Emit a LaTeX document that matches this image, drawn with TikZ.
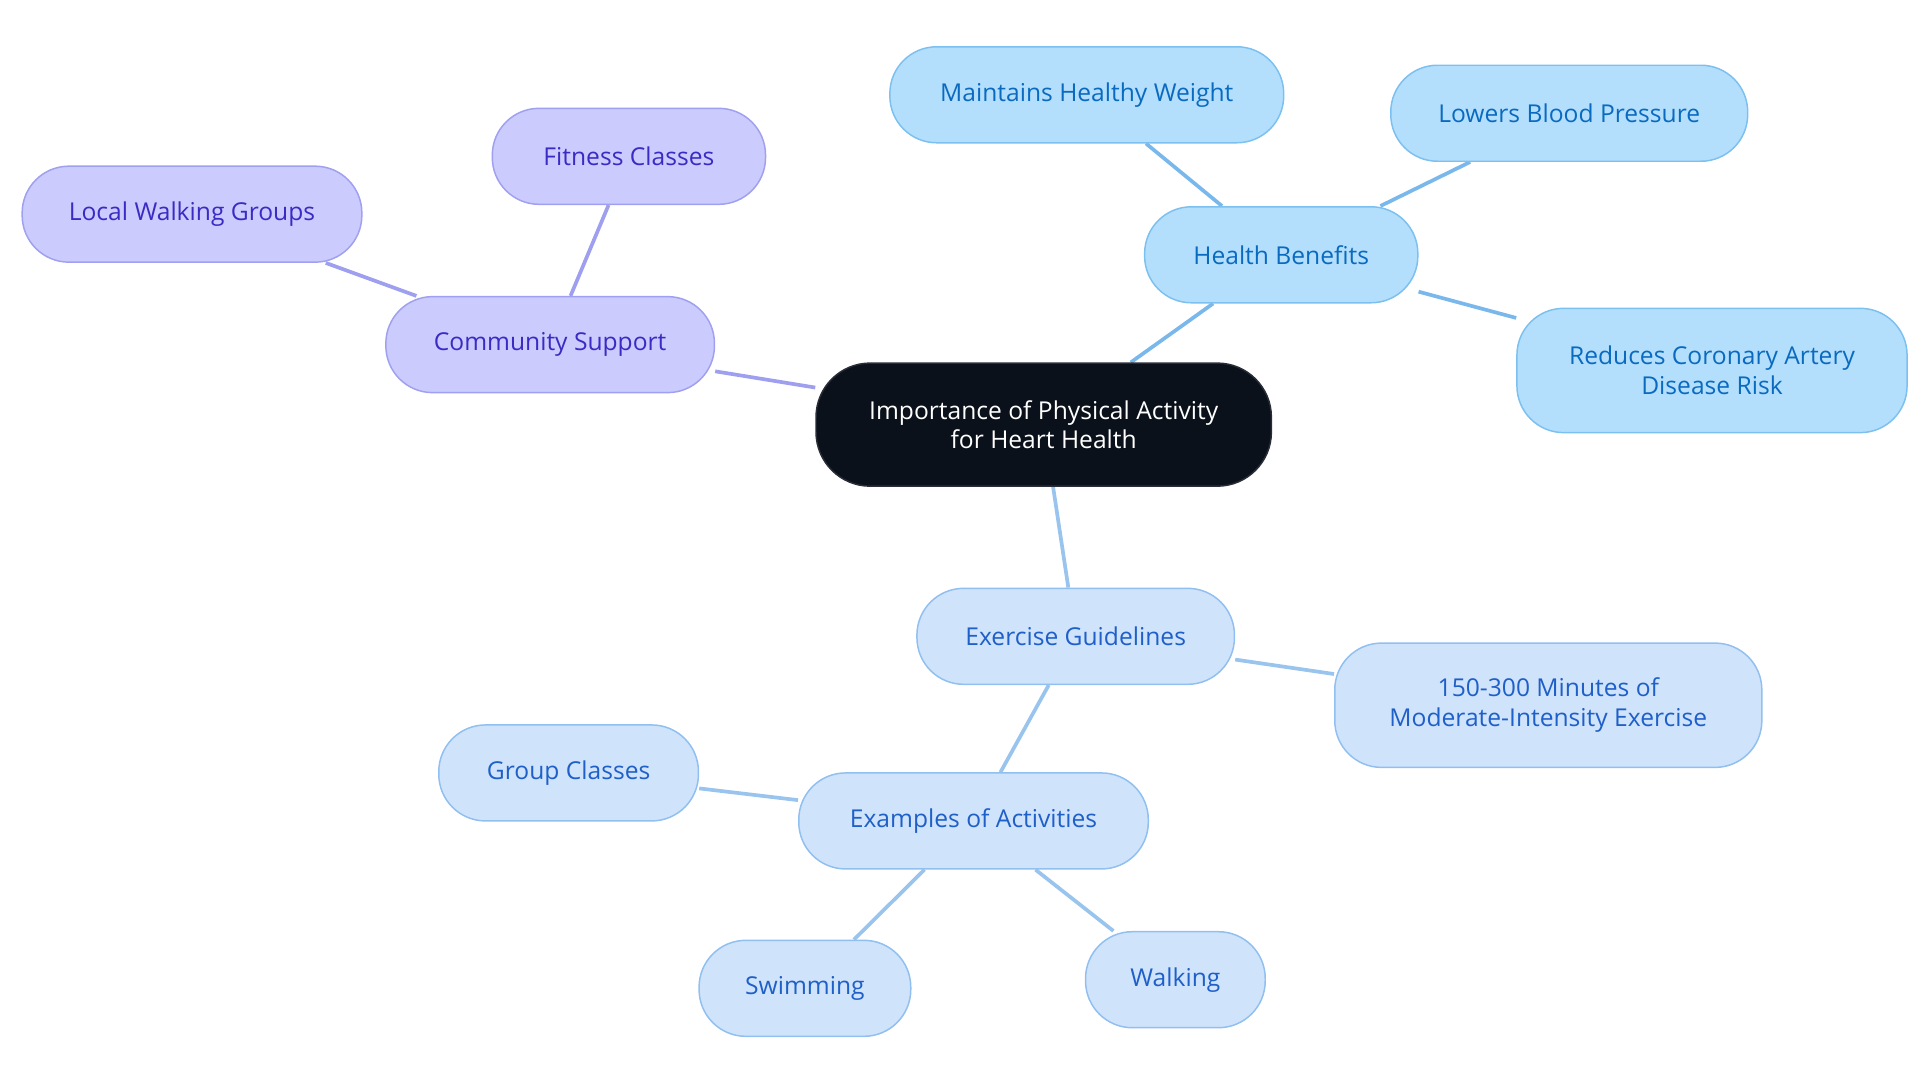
\documentclass[tikz,border=0pt]{standalone}
\usepackage{fontspec}
\setmainfont{Open Sans}
\pgfdeclarelayer{background}
\pgfsetlayers{background,main}
\begin{document}
\begin{tikzpicture}[x=0.5pt,y=-0.5pt,
 base/.style={rounded corners=19pt,align=center,font=\fontsize{10}{12}\selectfont,line width=0.6pt,inner sep=0pt,minimum height=39pt},
 root/.style={base,fill={rgb,255:red,11;green,17;blue,26},draw={rgb,255:red,40;green,45;blue,55},text=white,rounded corners=22pt},
 hb/.style={base,fill={rgb,255:red,179;green,223;blue,253},draw={rgb,255:red,124;green,192;blue,240},text={rgb,255:red,10;green,106;blue,192}},
 cs/.style={base,fill={rgb,255:red,203;green,203;blue,253},draw={rgb,255:red,160;green,160;blue,240},text={rgb,255:red,59;green,43;blue,196}},
 eg/.style={base,fill={rgb,255:red,207;green,227;blue,251},draw={rgb,255:red,144;green,191;blue,240},text={rgb,255:red,31;green,95;blue,200}},
 ehb/.style={draw={rgb,255:red,122;green,184;blue,236},line width=1.5pt},
 ecs/.style={draw={rgb,255:red,159;green,159;blue,240},line width=1.5pt},
 eeg/.style={draw={rgb,255:red,152;green,196;blue,238},line width=1.5pt}]
\useasboundingbox (0,0) rectangle (1560,880);
\node[root,minimum width=185pt,minimum height=50pt] (c) at (848,345) {Importance of Physical Activity\\for Heart Health};
\node[hb,minimum width=111pt] (hb) at (1041,207) {Health Benefits};
\node[hb,minimum width=160pt] (mhw) at (883,77) {Maintains Healthy Weight};
\node[hb,minimum width=145pt] (lbp) at (1275,92) {Lowers Blood Pressure};
\node[hb,minimum width=158.5pt,minimum height=50.5pt] (rc) at (1391,301) {Reduces Coronary Artery\\Disease Risk};
\node[cs,minimum width=133.5pt] (cs) at (447,280) {Community Support};
\node[cs,minimum width=111pt] (fc) at (511,127) {Fitness Classes};
\node[cs,minimum width=138pt] (lwg) at (156,174) {Local Walking Groups};
\node[eg,minimum width=129pt] (eg) at (874,517) {Exercise Guidelines};
\node[eg,minimum width=173.5pt,minimum height=50.5pt] (m) at (1258,573) {150-300 Minutes of\\Moderate-Intensity Exercise};
\node[eg,minimum width=142pt] (ea) at (791,667) {Examples of Activities};
\node[eg,minimum width=105.5pt] (gc) at (462,628) {Group Classes};
\node[eg,minimum width=86pt] (sw) at (654,803) {Swimming};
\node[eg,minimum width=73pt] (wa) at (955,796) {Walking};
\begin{pgfonlayer}{background}
\draw[ehb] (c) -- (hb);
\draw[ehb] (hb) -- (mhw);
\draw[ehb] (hb) -- (lbp);
\draw[ehb] (hb) -- (rc);
\draw[ecs] (c) -- (cs);
\draw[ecs] (cs) -- (fc);
\draw[ecs] (cs) -- (lwg);
\draw[eeg] (c) -- (eg);
\draw[eeg] (eg) -- (m);
\draw[eeg] (eg) -- (ea);
\draw[eeg] (ea) -- (gc);
\draw[eeg] (ea) -- (sw);
\draw[eeg] (ea) -- (wa);
\end{pgfonlayer}
\end{tikzpicture}
\end{document}
